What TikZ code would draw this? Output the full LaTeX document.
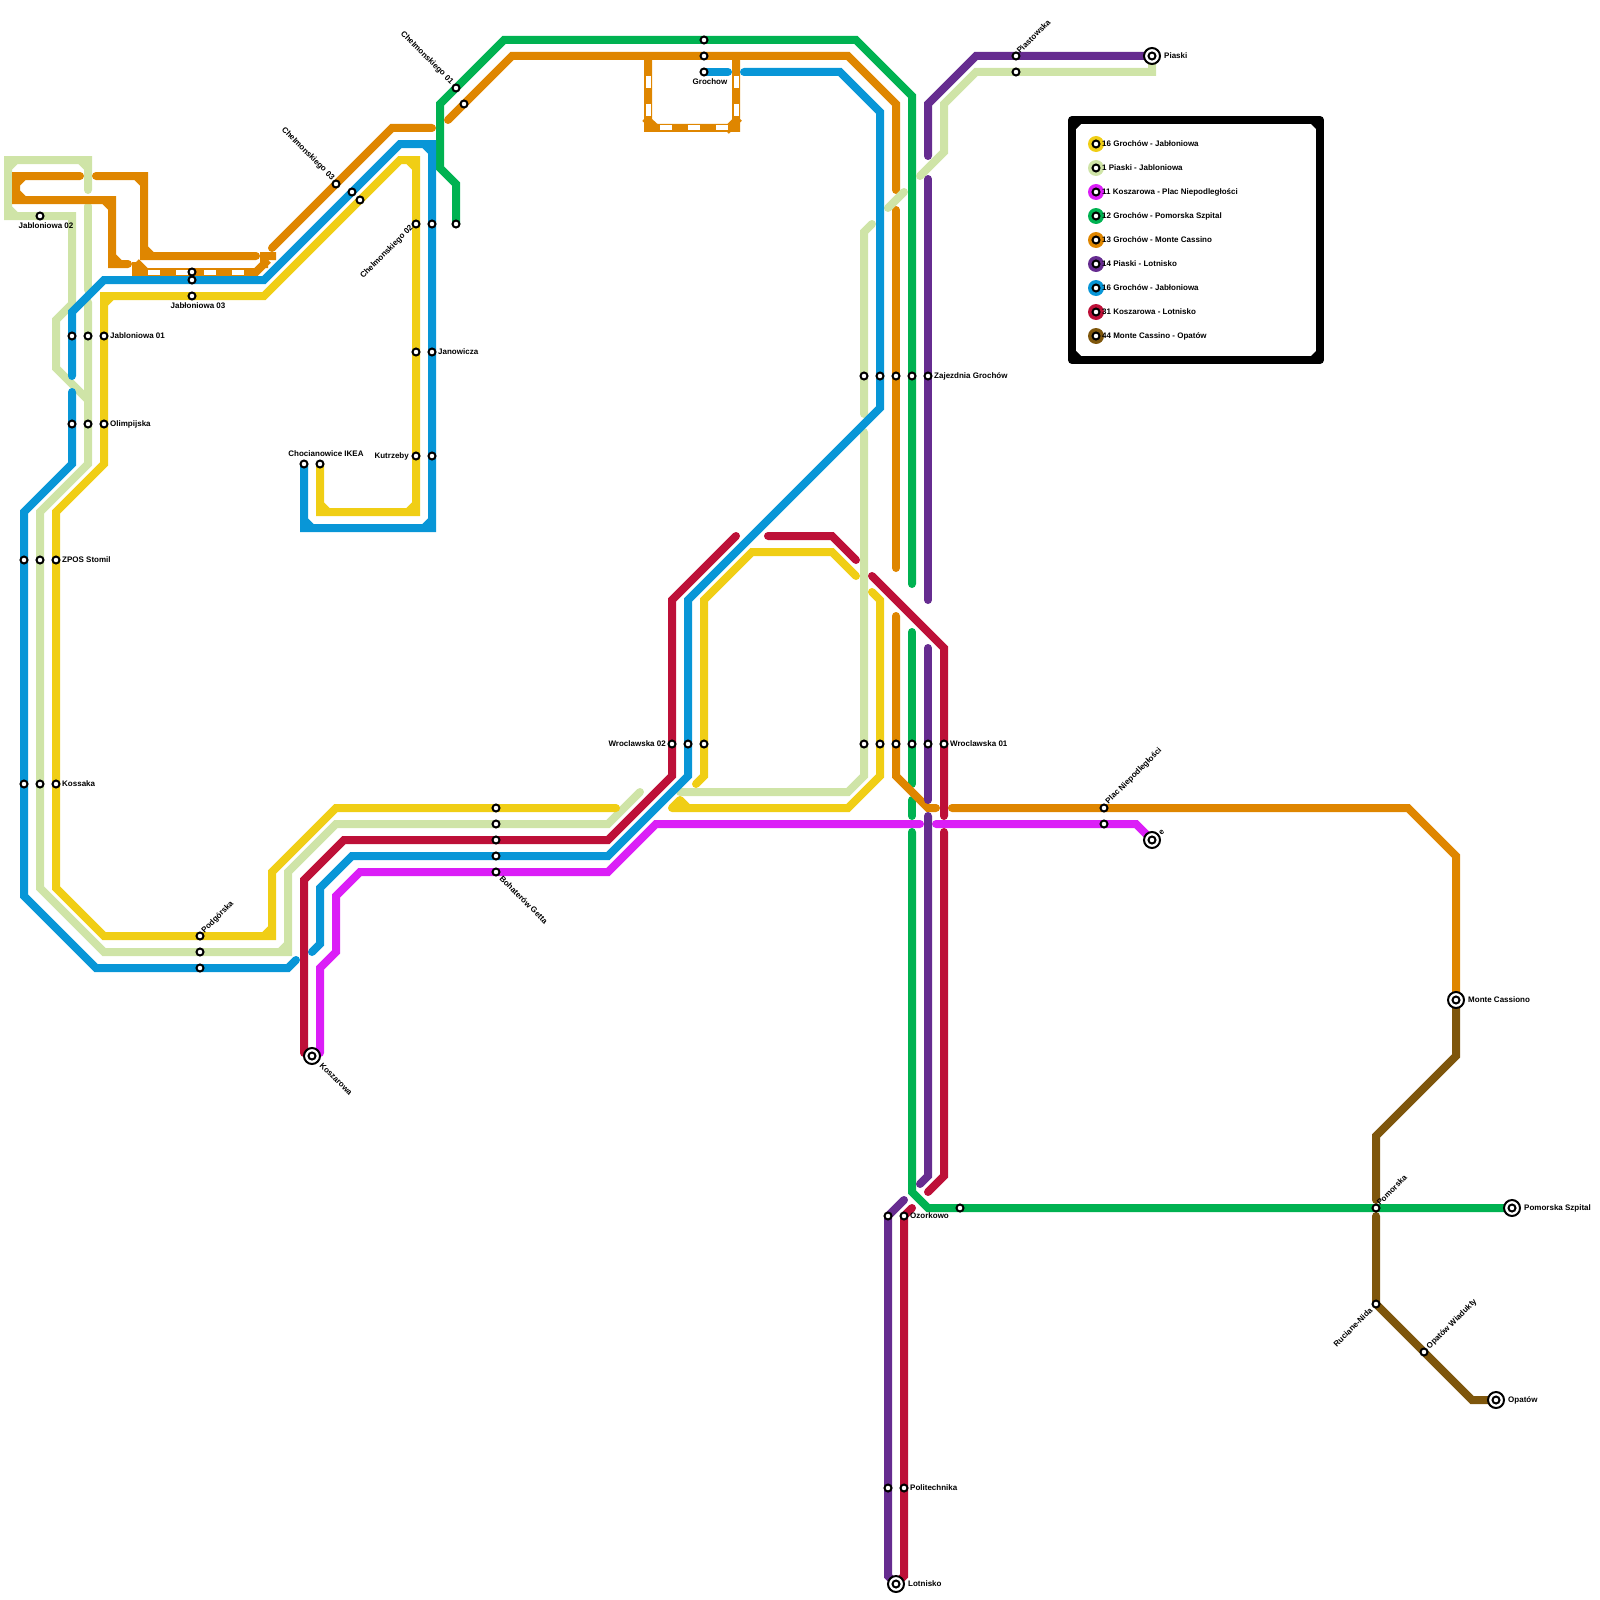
\documentclass[tikz,border=0pt]{standalone}
\usepackage{fontspec}
\setmainfont{Liberation Sans}
\definecolor{lineyellow}{HTML}{F0CE15}
\definecolor{linepale}{HTML}{CFE4A7}
\definecolor{linemagenta}{HTML}{DB1EF7}
\definecolor{linegreen}{HTML}{00B251}
\definecolor{lineorange}{HTML}{DF8600}
\definecolor{linepurple}{HTML}{662C90}
\definecolor{lineblue}{HTML}{0896D7}
\definecolor{linered}{HTML}{BD1038}
\definecolor{linebrown}{HTML}{7E560C}
\tikzset{
  route/.style={line width=8pt, line cap=round, miter limit=4},
  hole/.style={line width=5pt, white},
  stop/.style={circle, draw=black, fill=white, line width=2pt, inner sep=0pt, outer sep=0pt, minimum size=7pt},
  endring/.style={circle, draw=black, fill=white, line width=2pt, inner sep=0pt, outer sep=0pt, minimum size=16pt},
  legenddot/.style={circle, inner sep=0pt, outer sep=0pt, minimum size=16pt},
  stoplabel/.style={font=\bfseries\fontsize{8}{9}\selectfont, inner sep=0pt, text=black}
}
\begin{document}
\begin{tikzpicture}[x=1pt, y=-1pt]
  \useasboundingbox (0,0) rectangle (1600,1600);
  % 1 Piaski - Jabloniowa
  \draw[route, linepale] (88,190) -- (88,160) -- (8,160) -- (8,216) -- (72,216) -- (72,304) -- (56,320) -- (56,368) -- (88,400)
    (80,160) -- (88,168) (16,160) -- (8,168) (8,208) -- (16,216);
  \draw[route, linepale] (88,206) -- (88,290);
  \draw[route, linepale] (88,302) -- (88,464) -- (40,512) -- (40,888) -- (104,952) -- (288,952) -- (288,872) -- (336,824) -- (608,824) -- (640,792)
    (280,952) -- (288,944);
  \draw[route, linepale] (680,792) -- (848,792) -- (864,776) -- (864,432);
  \draw[route, linepale] (864,414) -- (864,232) -- (872,224);
  % 16 Grochow - Jabloniowa, yellow
  \draw[route, lineyellow] (320,464) -- (320,512) -- (416,512) -- (416,160) -- (400,160) -- (264,296) -- (104,296) -- (104,464) -- (56,512) -- (56,888) -- (104,936) -- (272,936) -- (272,872) -- (336,808) -- (616,808)
    (320,504) -- (328,512) (408,512) -- (416,504) (416,168) -- (408,160) (104,304) -- (112,296) (264,936) -- (272,928);
  \draw[route, lineyellow] (672,808) -- (848,808) -- (880,776) -- (880,600) -- (872,592)
    (680,800) -- (672,808) (680,800) -- (688,808);
  \draw[route, lineyellow] (856,576) -- (832,552) -- (752,552) -- (704,600) -- (704,776) -- (696,784);
  % 11 Koszarowa - Plac Niepodleglosci
  \draw[route, linemagenta] (320,1053) -- (320,968) -- (336,952) -- (336,896) -- (360,872) -- (608,872) -- (656,824) -- (920,824);
  \draw[route, linemagenta] (936,824) -- (1136,824) -- (1152,840);
  % 12 Grochow - Pomorska Szpital
  \draw[route, linegreen] (456,224) -- (456,184) -- (440,168) -- (440,104) -- (504,40) -- (856,40) -- (912,96) -- (912,584);
  \draw[route, linegreen] (912,632) -- (912,784);
  \draw[route, linegreen] (912,800) -- (912,816);
  \draw[route, linegreen] (912,832) -- (912,1192) -- (928,1208) -- (1512,1208);
  % 13 Grochow - Monte Cassino
  \draw[route, lineorange] (80,176) -- (16,176) -- (16,200) -- (112,200) -- (112,264) -- (128,264)
    (24,176) -- (16,184) (16,192) -- (24,200) (104,200) -- (112,208) (112,256) -- (120,264);
  \draw[route, lineorange] (96,176) -- (144,176) -- (144,256) -- (256,256)
    (136,176) -- (144,184) (144,248) -- (152,256);
  \draw[lineorange, line width=8pt] (132,272) -- (256,272) -- (268,260)
    (260,256) -- (276,256) (264,256) -- (264,268) (136,262) -- (146,272) (136,262) -- (136,276);
  \foreach \x in {148,176,204,232}
    \draw[hole] (\x,272) -- ++(12,0);
  \draw[route, lineorange] (272,248) -- (392,128) -- (432,128);
  \draw[route, lineorange] (448,120) -- (512,56) -- (848,56) -- (896,104) -- (896,190);
  \draw[route, lineorange] (896,210) -- (896,568);
  \draw[route, lineorange] (896,616) -- (896,776) -- (928,808) -- (936,808);
  \draw[route, lineorange] (952,808) -- (1408,808) -- (1456,856) -- (1456,1000);
  % tunnel under Grochow
  \draw[lineorange, line width=8pt] (648,56) -- (648,128) -- (736,128) -- (736,56)
    (645,118) -- (656,128) (739,118) -- (726,131);
  \foreach \y in {76,104} {
    \draw[hole] (648,\y) -- ++(0,12);
    \draw[hole] (736,\y) -- ++(0,12);
  }
  \foreach \x in {660,688,716}
    \draw[hole] (\x,128) -- ++(12,0);
  % 14 Piaski - Lotnisko
  \draw[route, linepurple] (1152,56) -- (976,56) -- (928,104) -- (928,156);
  \draw[route, linepurple] (928,179) -- (928,600);
  \draw[route, linepurple] (928,648) -- (928,800);
  \draw[route, linepurple] (928,816) -- (928,1176) -- (920,1184);
  \draw[route, linepurple] (904,1200) -- (888,1216) -- (888,1576) -- (896,1584);
  % 1 Piaski - Jabloniowa, the pieces above the other lines
  \draw[route, linepale] (888,208) -- (904,192);
  \draw[route, linepale] (920,176) -- (944,152) -- (944,104) -- (976,72) -- (1152,72) -- (1152,56);
  % 16 Grochow - Jabloniowa, blue
  \draw[route, lineblue] (304,464) -- (304,528) -- (432,528) -- (432,144) -- (400,144) -- (264,280) -- (104,280) -- (72,312) -- (72,376)
    (304,520) -- (312,528) (424,528) -- (432,520) (432,152) -- (424,144);
  \draw[route, lineblue] (72,392) -- (72,464) -- (24,512) -- (24,896) -- (96,968) -- (288,968) -- (296,960);
  \draw[route, lineblue] (312,952) -- (320,944) -- (320,888) -- (352,856) -- (608,856) -- (688,776) -- (688,600) -- (864,424) -- (880,408) -- (880,112) -- (840,72) -- (744,72);
  \draw[route, lineblue] (728,72) -- (704,72);
  % 31 Koszarowa - Lotnisko
  \draw[route, linered] (304,1053) -- (304,880) -- (344,840) -- (608,840) -- (672,776) -- (672,600) -- (736,536);
  \draw[route, linered] (768,536) -- (832,536) -- (856,560);
  \draw[route, linered] (872,576) -- (944,648) -- (944,816);
  \draw[route, linered] (944,832) -- (944,1176) -- (928,1192);
  \draw[route, linered] (912,1208) -- (904,1216) -- (904,1576) -- (896,1584);
  % 44 Monte Cassino - Opatow
  \draw[route, linebrown] (1456,1000) -- (1456,1056) -- (1376,1136) -- (1376,1200);
  \draw[route, linebrown] (1376,1216) -- (1376,1304) -- (1472,1400) -- (1496,1400);
  % Legend box
  \draw[black, line width=8pt, line join=round] (1072,120) rectangle (1320,360);
  \fill[black] (1076,124) -- (1081,124) -- (1076,129) -- cycle (1316,124) -- (1311,124) -- (1316,129) -- cycle
    (1076,356) -- (1081,356) -- (1076,351) -- cycle (1316,356) -- (1311,356) -- (1316,351) -- cycle;
  \foreach \col/\y/\txt in {lineyellow/144/16 Grochów - Jabłoniowa, linepale/168/1 Piaski - Jabloniowa, linemagenta/192/11 Koszarowa - Plac Niepodległości, linegreen/216/12 Grochów - Pomorska Szpital, lineorange/240/13 Grochów - Monte Cassino, linepurple/264/14 Piaski - Lotnisko, lineblue/288/16 Grochów - Jabłoniowa, linered/312/31 Koszarowa - Lotnisko, linebrown/336/44 Monte Cassino - Opatów} {
    \node[legenddot, fill=\col] (legend\y) at (1096,\y) {};
    \node[stop] (legendstop\y) at (1096,\y) {};
    \node[stoplabel, anchor=west] (legendtext\y) at (1102,\y) {\txt};
  }
  % Stops
  \node[stop] (jab2) at (40,216) {};
  \foreach \x in {72,88,104} {
    \node[stop] (jab1\x) at (\x,336) {};
    \node[stop] (olimp\x) at (\x,424) {};
  }
  \foreach \y in {272,280,296}
    \node[stop] (jab3\y) at (192,\y) {};
  \foreach \x in {24,40,56} {
    \node[stop] (zpos\x) at (\x,560) {};
    \node[stop] (kossaka\x) at (\x,784) {};
  }
  \foreach \y in {936,952,968}
    \node[stop] (podgorska\y) at (200,\y) {};
  \node[stop] (chel3a) at (336,184) {};
  \node[stop] (chel3b) at (352,192) {};
  \node[stop] (chel3c) at (360,200) {};
  \foreach \x in {416,432,456}
    \node[stop] (chel2\x) at (\x,224) {};
  \node[stop] (chel1a) at (456,88) {};
  \node[stop] (chel1b) at (464,104) {};
  \foreach \y in {40,56,72}
    \node[stop] (grochow\y) at (704,\y) {};
  \foreach \x in {416,432} {
    \node[stop] (janow\x) at (\x,352) {};
    \node[stop] (kutrz\x) at (\x,456) {};
  }
  \foreach \x in {304,320}
    \node[stop] (chocian\x) at (\x,464) {};
  \foreach \x in {864,880,896,912,928}
    \node[stop] (zajezdnia\x) at (\x,376) {};
  \foreach \x in {672,688,704,864,880,896,912,928,944}
    \node[stop] (wroc\x) at (\x,744) {};
  \foreach \y in {808,824,840,856,872}
    \node[stop] (bohater\y) at (496,\y) {};
  \foreach \y in {808,824}
    \node[stop] (plac\y) at (1104,\y) {};
  \foreach \y in {56,72}
    \node[stop] (piast\y) at (1016,\y) {};
  \foreach \x in {888,904} {
    \node[stop] (ozork\x) at (\x,1216) {};
    \node[stop] (polit\x) at (\x,1488) {};
  }
  \node[stop] (ozorkgreen) at (960,1208) {};
  \node[stop] (pomorska) at (1376,1208) {};
  \node[stop] (ruciane) at (1376,1304) {};
  \node[stop] (wiadukty) at (1424,1352) {};
  % Terminals
  \foreach \name/\x/\y in {piaski/1152/56, plac/1152/840, koszarowa/312/1056, lotnisko/896/1584, monte/1456/1000, szpital/1512/1208, opatow/1496/1400} {
    \node[endring] (\name ring) at (\x,\y) {};
    \node[stop] (\name) at (\x,\y) {};
  }
  % Labels
  \node[stoplabel] (labjab2) at (46,226) {Jabloniowa 02};
  \node[stoplabel, anchor=west] (labjab1) at (110,336) {Jabloniowa 01};
  \node[stoplabel, anchor=west] (labolimp) at (110,424) {Olimpijska};
  \node[stoplabel] (labjab3) at (198,306) {Jabłoniowa 03};
  \node[stoplabel, anchor=west] (labzpos) at (62,560) {ZPOS Stomil};
  \node[stoplabel, anchor=west] (labkossaka) at (62,784) {Kossaka};
  \node[stoplabel, anchor=west, rotate=45] (labpodgorska) at (203,932) {Podgórska};
  \node[stoplabel, anchor=east, rotate=-45] (labchel3) at (333,179) {Chelmonskiego 03};
  \node[stoplabel, anchor=east, rotate=45] (labchel2) at (412,227) {Chelmonskiego 02};
  \node[stoplabel, anchor=east, rotate=-45] (labchel1) at (452,83) {Chelmonskiego 01};
  \node[stoplabel] (labgrochow) at (710,82) {Grochow};
  \node[stoplabel, anchor=west] (labjanow) at (438,352) {Janowicza};
  \node[stoplabel, anchor=east] (labkutrz) at (409,456) {Kutrzeby};
  \node[stoplabel] (labchocian) at (326,454) {Chocianowice IKEA};
  \node[stoplabel, anchor=west] (labzajezdnia) at (934,376) {Zajezdnia Grochów};
  \node[stoplabel, anchor=east] (labwroc2) at (666,744) {Wroclawska 02};
  \node[stoplabel, anchor=west] (labwroc1) at (950,744) {Wroclawska 01};
  \node[stoplabel, anchor=west, rotate=-45] (labbohater) at (501,877) {Bohaterów Getta};
  \node[stoplabel, anchor=west, rotate=-45] (labkoszarowa) at (321,1064) {Koszarowa};
  \node[stoplabel, anchor=west, rotate=45] (labpiast) at (1018,52) {Piastowska};
  \node[stoplabel, anchor=west] (labpiaski) at (1164,56) {Piaski};
  \node[stoplabel, anchor=west, rotate=45] (labplac) at (1107,803) {Plac Niepodległości};
  \node[stoplabel, anchor=west, rotate=45] (labe) at (1160,834) {e};
  \node[stoplabel, anchor=west] (labmonte) at (1468,1000) {Monte Cassiono};
  \node[stoplabel, anchor=west, rotate=45] (labpomorska) at (1378,1204) {Pomorska};
  \node[stoplabel, anchor=west] (labszpital) at (1524,1208) {Pomorska Szpital};
  \node[stoplabel, anchor=east, rotate=45] (labruciane) at (1371,1309) {Ruciane-Nida};
  \node[stoplabel, anchor=west, rotate=45] (labwiadukty) at (1428,1348) {Opatów Wiadukty};
  \node[stoplabel, anchor=west] (labopatow) at (1508,1400) {Opatów};
  \node[stoplabel, anchor=west] (labozork) at (910,1216) {Ozorkowo};
  \node[stoplabel, anchor=west] (labpolit) at (910,1488) {Politechnika};
  \node[stoplabel, anchor=west] (lablotnisko) at (908,1584) {Lotnisko};
\end{tikzpicture}
\end{document}
